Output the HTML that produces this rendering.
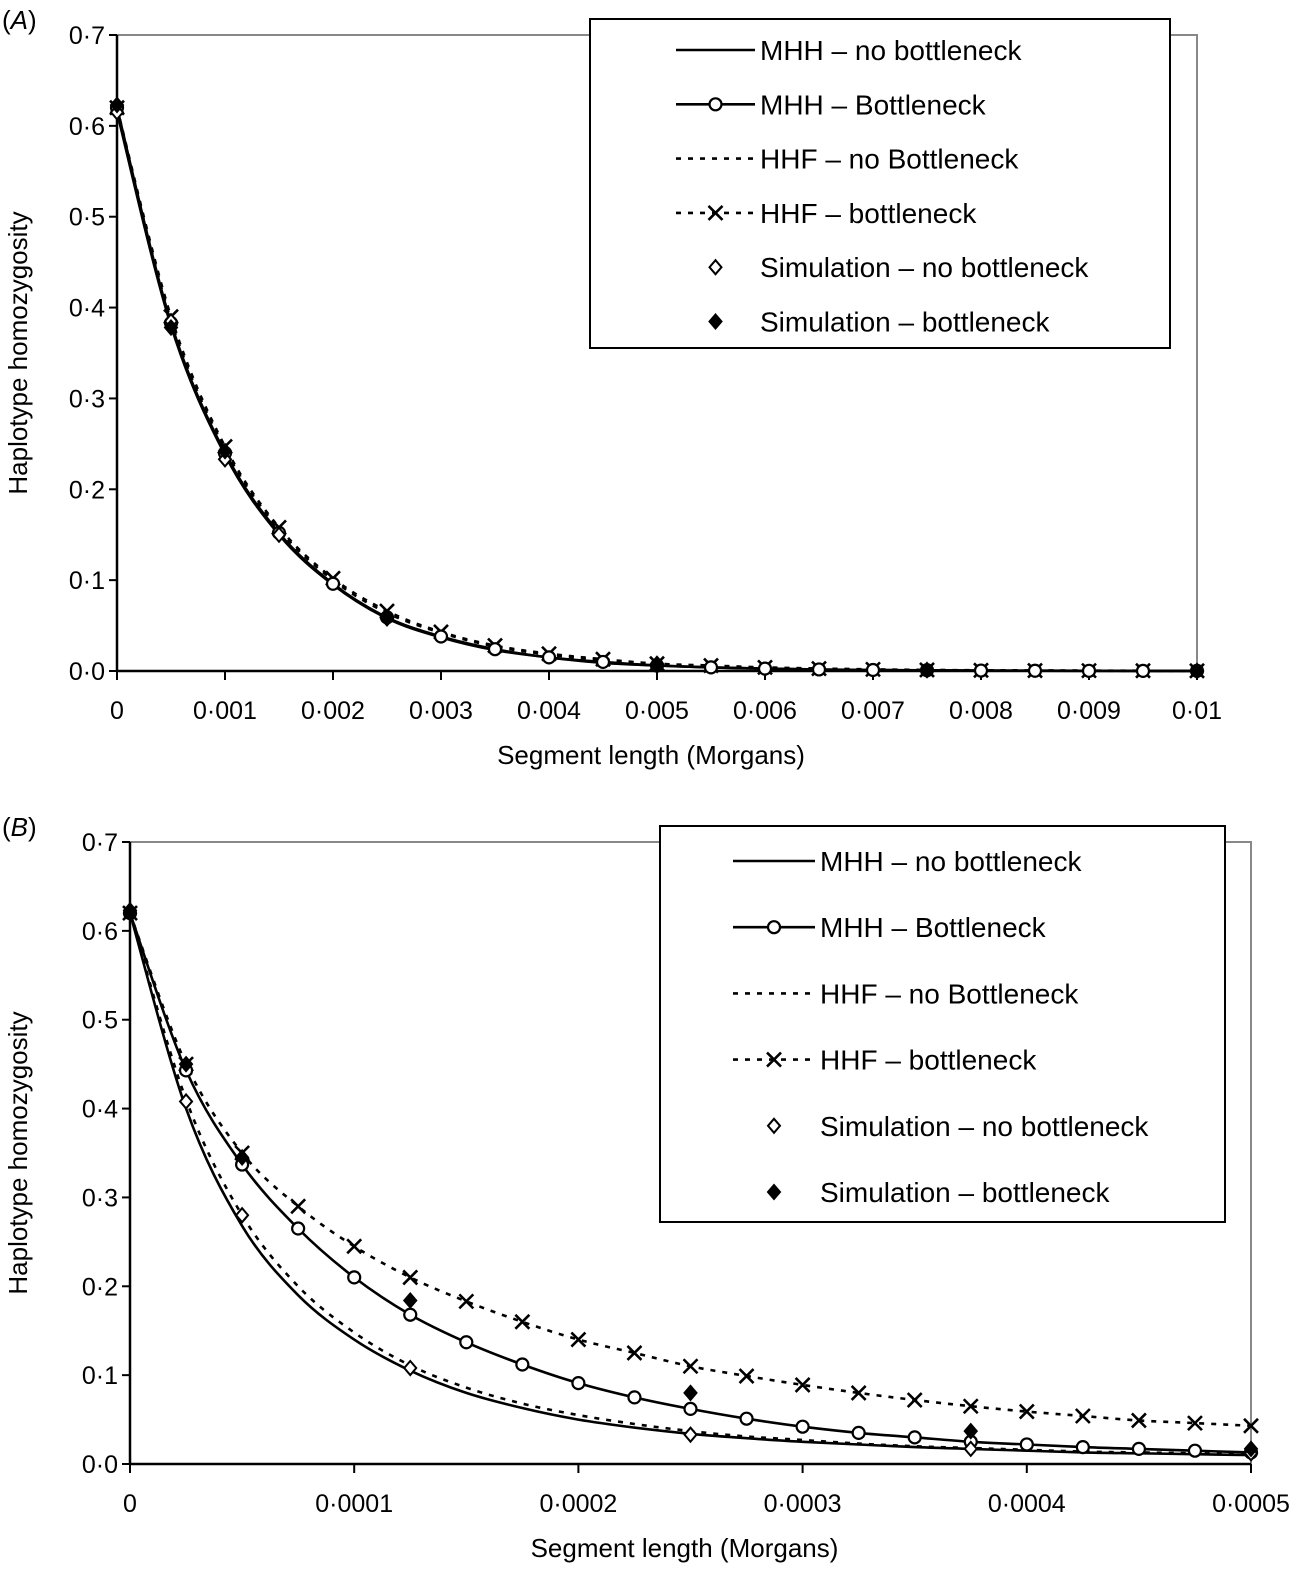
<!DOCTYPE html>
<html><head><meta charset="utf-8"><style>
html,body{margin:0;padding:0;background:#fff;}
svg{display:block;font-family:"Liberation Sans",sans-serif;}
</style></head><body>
<svg id="chart" width="1300" height="1577" viewBox="0 0 1300 1577"></svg>
<script>
// ---- Panel A data ----
const xA = [0,0.0005,0.001,0.0015,0.002,0.0025,0.003,0.0035,0.004,0.0045,0.005,0.0055,0.006,0.0065,0.007,0.0075,0.008,0.0085,0.009,0.0095,0.01];
const mhhNoA = [0.615,0.38,0.238,0.15,0.095,0.058,0.037,0.023,0.015,0.009,0.006,0.004,0.0025,0.0016,0.001,0.0007,0.0005,0.0003,0.0002,0.0001,0.0001];
const mhhBotA = [0.62,0.383,0.24,0.152,0.096,0.059,0.038,0.024,0.015,0.01,0.006,0.004,0.0026,0.0017,0.0011,0.0008,0.0005,0.0003,0.0002,0.0001,0.0001];
const hhfNoA = [0.618,0.386,0.244,0.156,0.1,0.064,0.042,0.027,0.018,0.012,0.008,0.005,0.0035,0.0024,0.0016,0.001,0.0007,0.0005,0.0003,0.0002,0.0002];
const hhfBotA = [0.62,0.39,0.247,0.158,0.102,0.066,0.043,0.028,0.019,0.013,0.008,0.006,0.004,0.0027,0.0018,0.0012,0.0008,0.0005,0.0004,0.0003,0.0002];
const simNoXA = [0,0.0005,0.001,0.0015,0.0025,0.005,0.0075,0.01];
const simNoA = [0.615,0.385,0.233,0.15,0.058,0.007,0.001,0.0];
const simBotXA = [0,0.0005,0.001,0.0025,0.005,0.0075,0.01];
const simBotA = [0.623,0.378,0.242,0.058,0.008,0.001,0.0];
const xTicksA = [0,0.001,0.002,0.003,0.004,0.005,0.006,0.007,0.008,0.009,0.01];
const xTickLabelsA = ["0","0·001","0·002","0·003","0·004","0·005","0·006","0·007","0·008","0·009","0·01"];
// ---- Panel B data ----
const xB = [0,0.000025,0.00005,0.000075,0.0001,0.000125,0.00015,0.000175,0.0002,0.000225,0.00025,0.000275,0.0003,0.000325,0.00035,0.000375,0.0004,0.000425,0.00045,0.000475,0.0005];
const mhhNoB = [0.62,0.40,0.268,0.19,0.14,0.105,0.08,0.063,0.05,0.041,0.034,0.029,0.025,0.022,0.019,0.017,0.015,0.013,0.012,0.011,0.010];
const mhhBotB = [0.62,0.443,0.337,0.265,0.21,0.168,0.137,0.112,0.091,0.075,0.062,0.051,0.042,0.035,0.030,0.025,0.022,0.019,0.017,0.015,0.013];
const hhfNoB = [0.62,0.41,0.28,0.2,0.148,0.111,0.086,0.068,0.055,0.045,0.037,0.031,0.027,0.023,0.02,0.018,0.016,0.014,0.013,0.012,0.011];
const hhfBotB = [0.62,0.45,0.35,0.29,0.245,0.21,0.183,0.16,0.14,0.125,0.11,0.099,0.089,0.08,0.072,0.065,0.059,0.054,0.049,0.046,0.043];
const simNoXB = [0,0.000025,0.00005,0.000125,0.00025,0.000375,0.0005];
const simNoB = [0.62,0.408,0.28,0.108,0.033,0.017,0.012];
const simBotXB = [0,0.000025,0.00005,0.000125,0.00025,0.000375,0.0005];
const simBotB = [0.623,0.45,0.345,0.184,0.08,0.037,0.017];
const xTicksB = [0,0.0001,0.0002,0.0003,0.0004,0.0005];
const xTickLabelsB = ["0","0·0001","0·0002","0·0003","0·0004","0·0005"];
const yTicks = [0,0.1,0.2,0.3,0.4,0.5,0.6,0.7];
const yTickLabels = ["0·0","0·1","0·2","0·3","0·4","0·5","0·6","0·7"];
const legendLabels = ["MHH – no bottleneck","MHH – Bottleneck","HHF – no Bottleneck","HHF – bottleneck","Simulation – no bottleneck","Simulation – bottleneck"];

const NS="http://www.w3.org/2000/svg";
const svg=document.getElementById('chart');
function mk(tag,attrs,parent){const e=document.createElementNS(NS,tag);for(const k in attrs)e.setAttribute(k,attrs[k]);(parent||svg).appendChild(e);return e;}

function circleM(g,x,y){const e=mk('circle',{cx:x,cy:y,r:6,fill:'#fff',stroke:'#000','stroke-width':2.2},g);}
function crossM(g,x,y){const e=mk('path',{d:`M${x-7},${y-7}L${x+7},${y+7}M${x+7},${y-7}L${x-7},${y+7}`,stroke:'#000','stroke-width':2.6,fill:'none'},g);}
function diamondM(g,x,y,filled){const e=mk('path',{d:`M${x},${y-7}L${x+6},${y}L${x},${y+7}L${x-6},${y}Z`,stroke:'#000','stroke-width':2,fill:filled?'#000':'#fff'},g);}

function smoothPath(pts){
  let d='M'+pts[0][0].toFixed(1)+','+pts[0][1].toFixed(1);
  for(let i=0;i<pts.length-1;i++){
    const p0=pts[Math.max(0,i-1)],p1=pts[i],p2=pts[i+1],p3=pts[Math.min(pts.length-1,i+2)];
    const c1=[p1[0]+(p2[0]-p0[0])/6,p1[1]+(p2[1]-p0[1])/6];
    const c2=[p2[0]-(p3[0]-p1[0])/6,p2[1]-(p3[1]-p1[1])/6];
    d+='C'+c1[0].toFixed(1)+','+c1[1].toFixed(1)+' '+c2[0].toFixed(1)+','+c2[1].toFixed(1)+' '+p2[0].toFixed(1)+','+p2[1].toFixed(1);
  }
  return d;
}

function panel(p){
  const g=mk('g',{});
  const sx=v=>p.x0+(v/p.xmax)*(p.x1-p.x0);
  const sy=v=>p.y0-(v/0.7)*(p.y0-p.y1);
  const fr=mk('path',{d:`M${p.x0},${p.y1}L${p.x1},${p.y1}L${p.x1},${p.y0}`,stroke:'#888','stroke-width':2,fill:'none'},g);
  
  const ya=mk('line',{x1:p.x0,y1:p.y1,x2:p.x0,y2:p.y0,stroke:'#000','stroke-width':2.5},g);
  
  const xa=mk('line',{x1:p.x0,y1:p.y0,x2:p.x1,y2:p.y0,stroke:'#000','stroke-width':2.5},g);
  
  yTicks.forEach((v,i)=>{const y=sy(v);
    mk('line',{x1:p.x0-8,y1:y,x2:p.x0,y2:y,stroke:'#000','stroke-width':2},g);
    const t=mk('text',{x:p.x0-12,y:y+9,'text-anchor':'end','font-size':25},g);t.textContent=yTickLabels[i];
    });
  p.xt.forEach((v,i)=>{const x=sx(v);
    mk('line',{x1:x,y1:p.y0,x2:x,y2:p.y0+9,stroke:'#000','stroke-width':2},g);
    const t=mk('text',{x:x,y:p.y0+48,'text-anchor':'middle','font-size':25},g);t.textContent=p.xl[i];
    });
  const xt=mk('text',{x:(p.x0+p.x1)/2+(p.xtOff||0),y:p.y0+93,'text-anchor':'middle','font-size':26},g);xt.textContent='Segment length (Morgans)';
  
  const cy=(p.y0+p.y1)/2;
  const yt=mk('text',{x:27,y:cy,'text-anchor':'middle','font-size':26,transform:`rotate(-90 27 ${cy})`},g);yt.textContent='Haplotype homozygosity';
  
  const pl=mk('text',{x:2,y:p.y1-6,'font-size':26},g);pl.innerHTML='(<tspan font-style="italic">'+p.letter+'</tspan>)';
  
  const line=(xs,ys,dash,nm)=>{const d=smoothPath(xs.map((v,i)=>[sx(v),sy(ys[i])]));
    const e=mk('path',{d:d,stroke:'#000','stroke-width':2.6,fill:'none','stroke-dasharray':dash||'none','stroke-linejoin':'round'},g);
    };
  line(p.x,p.mhhNo,null,'mhh-no-bottleneck-line');
  line(p.x,p.hhfNo,'5,7','hhf-no-bottleneck-line');
  line(p.x,p.hhfBot,'5,7','hhf-bottleneck-line');
  line(p.x,p.mhhBot,null,'mhh-bottleneck-line');
  p.x.forEach((v,i)=>crossM(g,sx(v),sy(p.hhfBot[i])));
  p.x.forEach((v,i)=>circleM(g,sx(v),sy(p.mhhBot[i])));
  p.snx.forEach((v,i)=>diamondM(g,sx(v),sy(p.sn[i]),false));
  p.sbx.forEach((v,i)=>diamondM(g,sx(v),sy(p.sb[i]),true));
  const L=p.leg;
  const lg=mk('g',{},g);
  mk('rect',{x:L.x,y:L.y,width:L.w,height:L.h,fill:'#fff',stroke:'#000','stroke-width':2},lg);
  legendLabels.forEach((lab,i)=>{const y=L.y+L.r0+i*L.dy;const a=L.s0,b=L.s1,m=(a+b)/2;
    const eg=mk('g',{},lg);
    if(i<2)mk('line',{x1:a,y1:y,x2:b,y2:y,stroke:'#000','stroke-width':2.6},eg);
    if(i==2||i==3)mk('line',{x1:a,y1:y,x2:b,y2:y,stroke:'#000','stroke-width':2.6,'stroke-dasharray':'5,7'},eg);
    if(i==1)circleM(eg,m,y);if(i==3)crossM(eg,m,y);if(i==4)diamondM(eg,m,y,false);if(i==5)diamondM(eg,m,y,true);
    const t=mk('text',{x:b+5,y:y+10,'font-size':L.fs},eg);t.textContent=lab;});
}
panel({name:'panel-a',letter:'A',x0:117,x1:1197,y0:671,y1:35,xmax:0.01,xt:xTicksA,xl:xTickLabelsA,
  x:xA,mhhNo:mhhNoA,mhhBot:mhhBotA,hhfNo:hhfNoA,hhfBot:hhfBotA,snx:simNoXA,sn:simNoA,sbx:simBotXA,sb:simBotA,xtOff:-6,
  leg:{x:590,y:19,w:580,h:329,r0:31,dy:54.3,s0:676,s1:755,fs:28}});
panel({name:'panel-b',letter:'B',x0:130,x1:1251,y0:1464,y1:842,xmax:0.0005,xt:xTicksB,xl:xTickLabelsB,
  x:xB,mhhNo:mhhNoB,mhhBot:mhhBotB,hhfNo:hhfNoB,hhfBot:hhfBotB,snx:simNoXB,sn:simNoB,sbx:simBotXB,sb:simBotB,xtOff:-6,
  leg:{x:660,y:826,w:565,h:396,r0:35,dy:66.2,s0:733,s1:815,fs:28}});
</script>
</body></html>
